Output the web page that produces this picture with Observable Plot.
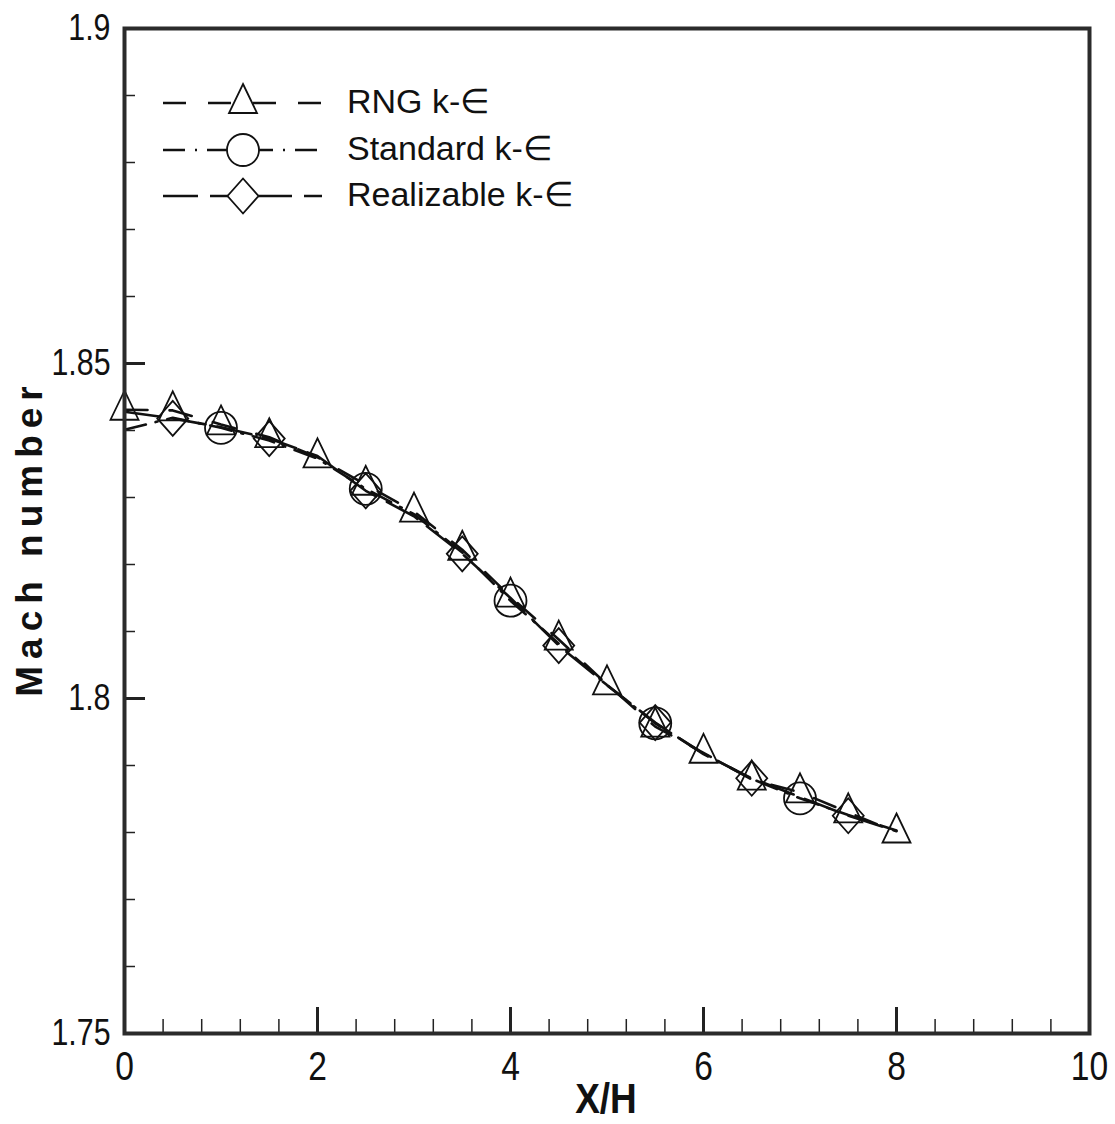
<!DOCTYPE html>
<html><head><meta charset="utf-8">
<script src="https://cdn.jsdelivr.net/npm/d3@7"></script>
<script src="https://cdn.jsdelivr.net/npm/@observablehq/plot@0.6"></script>
<style>body{margin:0;background:#fff}</style>
</head><body><div id="chart"></div>
<script>
// ---- data ----
const xH = [0, 0.5, 1, 1.5, 2, 2.5, 3, 3.5, 4, 4.5, 5, 5.5, 6, 6.5, 7, 7.5, 8];
const rng        = [1.8431, 1.8430, 1.8409, 1.8390, 1.8360, 1.8319, 1.8279, 1.8222, 1.8152, 1.8088, 1.8021, 1.7958, 1.7919, 1.7879, 1.7860, 1.7830, 1.7800];
const standard   = [1.8401, 1.8419, 1.8404, 1.8385, 1.8358, 1.8313, 1.8275, 1.8218, 1.8146, 1.8082, 1.8020, 1.7963, 1.7918, 1.7880, 1.7851, 1.7826, 1.7803];
const realizable = [1.8428, 1.8418, 1.8405, 1.8388, 1.8362, 1.8310, 1.8272, 1.8216, 1.8150, 1.8079, 1.8020, 1.7964, 1.7917, 1.7881, 1.7853, 1.7825, 1.7802];
const rngMarkerX        = [0, 0.5, 1, 1.5, 2, 2.5, 3, 3.5, 4, 4.5, 5, 5.5, 6, 6.5, 7, 7.5, 8];
const standardMarkerX   = [1, 2.5, 4, 5.5, 7];
const realizableMarkerX = [0.5, 1.5, 2.5, 3.5, 4.5, 5.5, 6.5, 7.5];
const seriesNames = ["RNG k-\u2208", "Standard k-\u2208", "Realizable k-\u2208"];
const xTicks = [0, 2, 4, 6, 8, 10];
const xMinorTicks = [0.4, 0.8, 1.2, 1.6, 2.4, 2.8, 3.2, 3.6, 4.4, 4.8, 5.2, 5.6, 6.4, 6.8, 7.2, 7.6, 8.4, 8.8, 9.2, 9.6];
const yTicks = [1.75, 1.8, 1.85, 1.9];
const yTickLabels = ["1.75", "1.8", "1.85", "1.9"];
const yMinorTicks = [1.76, 1.77, 1.78, 1.79, 1.81, 1.82, 1.83, 1.84, 1.86, 1.87, 1.88, 1.89];
const xLabel = "X/H";
const yLabel = "Mach number";

// ---- styles ----
const W = 1115, H = 1124, mL = 124, mR = 26, mT = 28, mB = 91;
const pw = W - mL - mR, ph = H - mT - mB;
const dashes = ["23,22", "22,10,2,10", "35,12"];
const sans = "'Liberation Sans',Arial,Helvetica,sans-serif";

function triPath(ctx) { ctx.moveTo(0, -19); ctx.lineTo(14, 10); ctx.lineTo(-14, 10); ctx.closePath(); }
function diaPath(ctx) { ctx.moveTo(0, -17.5); ctx.lineTo(15.5, 0); ctx.lineTo(0, 17.5); ctx.lineTo(-15.5, 0); ctx.closePath(); }
function cirPath(ctx) { ctx.moveTo(16, 0); ctx.arc(0, 0, 16, 0, 2 * Math.PI); ctx.closePath(); }
const symTri = {draw: (ctx) => triPath(ctx)};
const symDia = {draw: (ctx) => diaPath(ctx)};
const symCir = {draw: (ctx) => cirPath(ctx)};

const rows = (ys) => xH.map((x, i) => ({x, y: ys[i]}));
const markerRows = (ys, mx) => mx.map(x => ({x, y: ys[xH.indexOf(x)]}));

const chart = Plot.plot({
  width: W, height: H,
  marginLeft: mL, marginRight: mR, marginTop: mT, marginBottom: mB,
  x: {domain: [0, 10]},
  y: {domain: [1.75, 1.9]},
  style: {background: "#fff", color: "#111"},
  marks: [
    Plot.line(rows(rng), {x: "x", y: "y", stroke: "#111", strokeWidth: 2.6, strokeDasharray: dashes[0]}),
    Plot.line(rows(standard), {x: "x", y: "y", stroke: "#111", strokeWidth: 2.6, strokeDasharray: dashes[1]}),
    Plot.line(rows(realizable), {x: "x", y: "y", stroke: "#111", strokeWidth: 2.6, strokeDasharray: dashes[2]}),
    Plot.dot(markerRows(rng, rngMarkerX), {x: "x", y: "y", symbol: symTri, r: 10, stroke: "#111", strokeWidth: 1.8, fill: "none"}),
    Plot.dot(markerRows(standard, standardMarkerX), {x: "x", y: "y", symbol: symCir, r: 10, stroke: "#111", strokeWidth: 1.8, fill: "none"}),
    Plot.dot(markerRows(realizable, realizableMarkerX), {x: "x", y: "y", symbol: symDia, r: 10, stroke: "#111", strokeWidth: 1.8, fill: "none"}),
    Plot.tickY(yTicks, {y: d => d, insetRight: pw - 21, stroke: "#222", strokeWidth: 3}),
    Plot.tickY(yMinorTicks, {y: d => d, insetRight: pw - 11, stroke: "#222", strokeWidth: 1.5}),
    Plot.tickX(xTicks, {x: d => d, insetTop: ph - 26, stroke: "#222", strokeWidth: 3}),
    Plot.tickX(xMinorTicks, {x: d => d, insetTop: ph - 14, stroke: "#222", strokeWidth: 1.5}),
    Plot.axisY(yTicks, {tickSize: 0, tickPadding: 14, tickFormat: d => yTickLabels[yTicks.indexOf(d)], fontSize: 37, fontFamily: sans, label: null, ariaLabel: "y-axis"}),
    Plot.axisX(xTicks, {tickSize: 0, tickPadding: 17, tickFormat: d => String(d), fontSize: 41, fontFamily: sans, label: null, ariaLabel: "x-axis"}),
    Plot.frame({stroke: "#2b2b2b", strokeWidth: 4})
  ]
});
document.getElementById("chart").appendChild(chart);

const svg = d3.select(chart);
// condense tick labels (reference uses a narrow face)
svg.selectAll("g[aria-label^='y-axis'] text, g[aria-label^='x-axis'] text").each(function () {
  const t = d3.select(this);
  const tr = t.attr("transform") || "";
  t.attr("transform", tr + " scale(0.82,1)");
});

// ---- axis titles and legend ----
svg.append("text").text(yLabel)
  .attr("transform", "translate(42,538) rotate(-90)")
  .attr("text-anchor", "middle")
  .style("font-family", sans).style("font-weight", "bold").style("font-size", "37px")
  .style("letter-spacing", "7px").attr("fill", "#111");
svg.append("text").text(xLabel)
  .attr("transform", "translate(606,1113) scale(0.88,1)")
  .attr("text-anchor", "middle")
  .style("font-family", sans).style("font-weight", "bold").style("font-size", "42px")
  .attr("fill", "#111");

const legendRowsY = [103, 150, 196];
const legendSyms = [triPath, cirPath, diaPath];
const lg = svg.append("g").attr("text-anchor", "start");
seriesNames.forEach((name, i) => {
  const y = legendRowsY[i];
  lg.append("line").attr("x1", 163).attr("x2", 322).attr("y1", y).attr("y2", y)
    .attr("stroke", "#111").attr("stroke-width", 2.6).attr("stroke-dasharray", dashes[i]);
  const p = d3.path(); legendSyms[i](p);
  lg.append("path").attr("d", p.toString()).attr("transform", `translate(243,${y})`)
    .attr("fill", "#fff").attr("stroke", "#111").attr("stroke-width", 1.8);
  lg.append("text").text(name).attr("x", 347).attr("y", y + 10).attr("text-anchor", "start")
    .style("font-family", sans).style("font-size", "34px").attr("fill", "#111");
});
</script>
</body></html>
